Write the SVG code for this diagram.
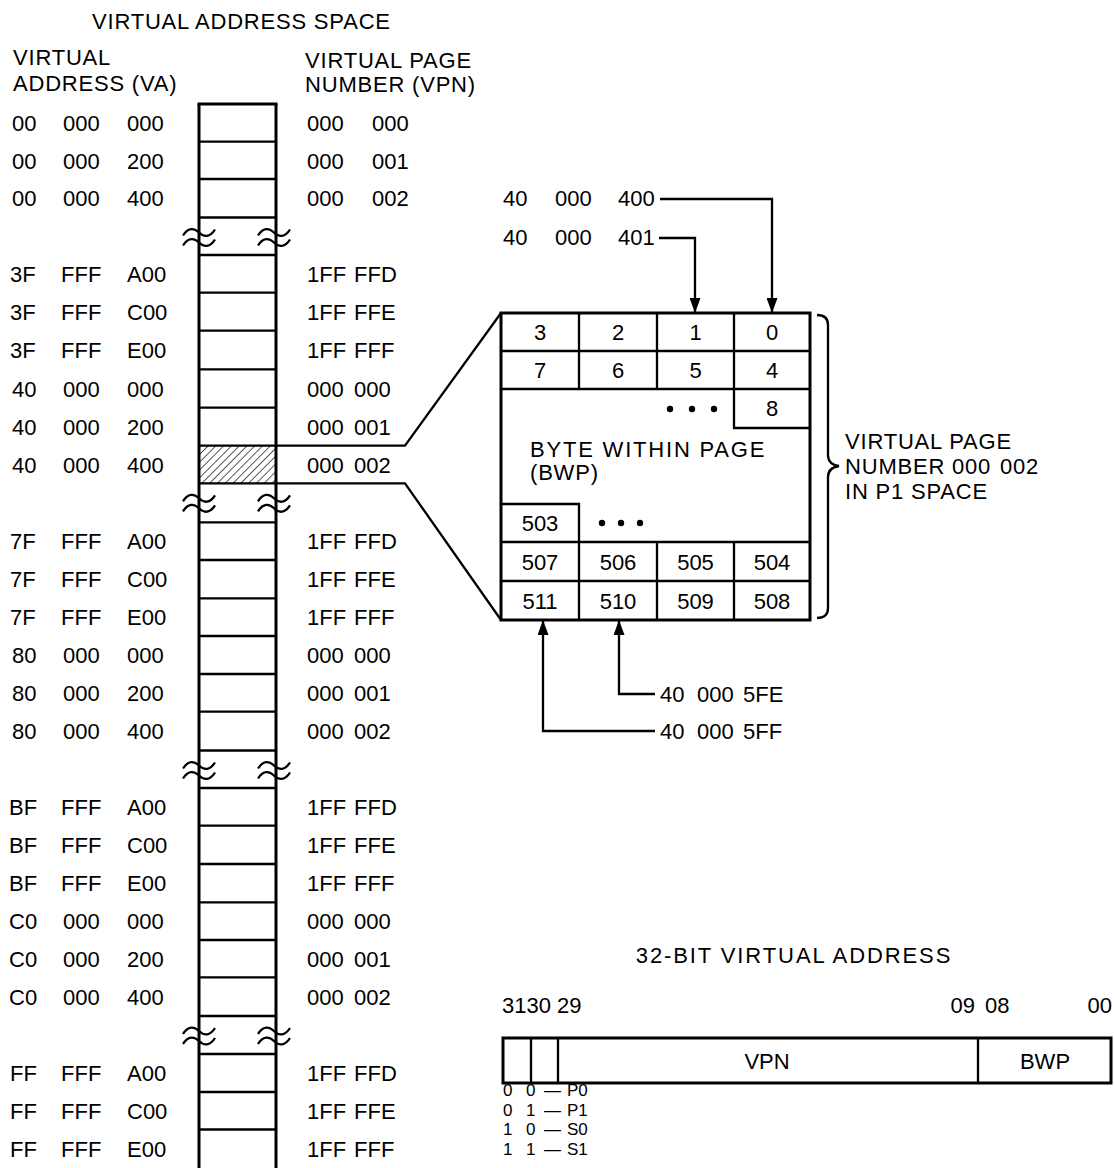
<svg xmlns="http://www.w3.org/2000/svg" width="1114" height="1168" viewBox="0 0 1114 1168">
<defs>
<style>
text{font-family:"Liberation Sans",Arial,Helvetica,sans-serif;font-size:22px;fill:#000}
.h{letter-spacing:0.8px}
.c{text-anchor:middle}
.e{text-anchor:end}
.lg{font-size:17px}
.thick{stroke:#000;stroke-width:3;fill:none}
.thin{stroke:#000;stroke-width:2.3;fill:none}
.brk{stroke:#000;stroke-width:2.3;fill:none}
.conn{stroke:#000;stroke-width:2.3;fill:none}
</style>
<pattern id="hatch" patternUnits="userSpaceOnUse" width="5.5" height="5.5" patternTransform="rotate(45)"><line x1="0" y1="0" x2="0" y2="5.5" stroke="#000" stroke-width="1.3"/></pattern>
<path id="tl" d="M-16,3 C-11,-5 -5,-5 0,0 C5,5 11,5 16,-3"/>
<marker id="ah" viewBox="0 0 15 11" refX="15" refY="5.5" markerWidth="15" markerHeight="11" orient="auto" markerUnits="userSpaceOnUse"><path d="M0,0 L15,5.5 L0,11 Z" fill="#000"/></marker>
</defs>
<rect width="1114" height="1168" fill="#fff"/>

<g id="headers">
<text class="h" x="92" y="29">VIRTUAL ADDRESS SPACE</text>
<text class="h" x="13" y="65">VIRTUAL</text>
<text class="h" x="13" y="91">ADDRESS (VA)</text>
<text class="h" x="305" y="68">VIRTUAL PAGE</text>
<text class="h" x="305" y="92">NUMBER (VPN)</text>
</g>

<g id="address-column">
<rect x="199" y="445.7" width="77" height="37.6" fill="url(#hatch)"/>
<line class="thick" x1="199" y1="104" x2="199" y2="1168"/>
<line class="thick" x1="276" y1="104" x2="276" y2="1168"/>
<line class="thick" x1="197.5" y1="104" x2="277.5" y2="104"/>
<g class="thin">
<path d="M199,141.7H276M199,179H276M199,217.5H276M199,255H276M199,292.7H276M199,330.7H276M199,369.3H276M199,407.7H276M199,445.7H276M199,483.3H276M199,522.3H276M199,560H276M199,598.3H276M199,636H276M199,674H276M199,711.7H276M199,750.5H276M199,788H276M199,825.7H276M199,864H276M199,902.3H276M199,940H276M199,977.3H276M199,1016H276M199,1054H276M199,1092H276M199,1129.5H276"/>
</g>
<g class="brk">
<use href="#tl" x="199" y="232.5"/><use href="#tl" x="199" y="242.5"/><use href="#tl" x="274" y="232.5"/><use href="#tl" x="274" y="242.5"/>
<use href="#tl" x="199" y="498.3"/><use href="#tl" x="199" y="508.3"/><use href="#tl" x="274" y="498.3"/><use href="#tl" x="274" y="508.3"/>
<use href="#tl" x="199" y="765.5"/><use href="#tl" x="199" y="775.5"/><use href="#tl" x="274" y="765.5"/><use href="#tl" x="274" y="775.5"/>
<use href="#tl" x="199" y="1031"/><use href="#tl" x="199" y="1041"/><use href="#tl" x="274" y="1031"/><use href="#tl" x="274" y="1041"/>
</g>
</g>

<g id="va-labels">
<text y="131"><tspan x="12">00</tspan><tspan x="63">000</tspan><tspan x="127">000</tspan></text>
<text y="168.5"><tspan x="12">00</tspan><tspan x="63">000</tspan><tspan x="127">200</tspan></text>
<text y="206"><tspan x="12">00</tspan><tspan x="63">000</tspan><tspan x="127">400</tspan></text>
<text y="282"><tspan x="10">3F</tspan><tspan x="61">FFF</tspan><tspan x="127">A00</tspan></text>
<text y="320"><tspan x="10">3F</tspan><tspan x="61">FFF</tspan><tspan x="127">C00</tspan></text>
<text y="358"><tspan x="10">3F</tspan><tspan x="61">FFF</tspan><tspan x="127">E00</tspan></text>
<text y="396.5"><tspan x="12">40</tspan><tspan x="63">000</tspan><tspan x="127">000</tspan></text>
<text y="434.5"><tspan x="12">40</tspan><tspan x="63">000</tspan><tspan x="127">200</tspan></text>
<text y="472.5"><tspan x="12">40</tspan><tspan x="63">000</tspan><tspan x="127">400</tspan></text>
<text y="549"><tspan x="10">7F</tspan><tspan x="61">FFF</tspan><tspan x="127">A00</tspan></text>
<text y="587"><tspan x="10">7F</tspan><tspan x="61">FFF</tspan><tspan x="127">C00</tspan></text>
<text y="625"><tspan x="10">7F</tspan><tspan x="61">FFF</tspan><tspan x="127">E00</tspan></text>
<text y="663"><tspan x="12">80</tspan><tspan x="63">000</tspan><tspan x="127">000</tspan></text>
<text y="701"><tspan x="12">80</tspan><tspan x="63">000</tspan><tspan x="127">200</tspan></text>
<text y="739"><tspan x="12">80</tspan><tspan x="63">000</tspan><tspan x="127">400</tspan></text>
<text y="815"><tspan x="9">BF</tspan><tspan x="61">FFF</tspan><tspan x="127">A00</tspan></text>
<text y="853"><tspan x="9">BF</tspan><tspan x="61">FFF</tspan><tspan x="127">C00</tspan></text>
<text y="891"><tspan x="9">BF</tspan><tspan x="61">FFF</tspan><tspan x="127">E00</tspan></text>
<text y="929"><tspan x="9">C0</tspan><tspan x="63">000</tspan><tspan x="127">000</tspan></text>
<text y="967"><tspan x="9">C0</tspan><tspan x="63">000</tspan><tspan x="127">200</tspan></text>
<text y="1005"><tspan x="9">C0</tspan><tspan x="63">000</tspan><tspan x="127">400</tspan></text>
<text y="1081"><tspan x="10">FF</tspan><tspan x="61">FFF</tspan><tspan x="127">A00</tspan></text>
<text y="1119"><tspan x="10">FF</tspan><tspan x="61">FFF</tspan><tspan x="127">C00</tspan></text>
<text y="1157"><tspan x="10">FF</tspan><tspan x="61">FFF</tspan><tspan x="127">E00</tspan></text>
</g>

<g id="vpn-labels">
<text y="131"><tspan x="307">000</tspan><tspan x="372">000</tspan></text>
<text y="168.5"><tspan x="307">000</tspan><tspan x="372">001</tspan></text>
<text y="206"><tspan x="307">000</tspan><tspan x="372">002</tspan></text>
<text y="282"><tspan x="307">1FF</tspan><tspan x="354">FFD</tspan></text>
<text y="320"><tspan x="307">1FF</tspan><tspan x="354">FFE</tspan></text>
<text y="358"><tspan x="307">1FF</tspan><tspan x="354">FFF</tspan></text>
<text y="396.5"><tspan x="307">000</tspan><tspan x="354">000</tspan></text>
<text y="434.5"><tspan x="307">000</tspan><tspan x="354">001</tspan></text>
<text y="472.5"><tspan x="307">000</tspan><tspan x="354">002</tspan></text>
<text y="549"><tspan x="307">1FF</tspan><tspan x="354">FFD</tspan></text>
<text y="587"><tspan x="307">1FF</tspan><tspan x="354">FFE</tspan></text>
<text y="625"><tspan x="307">1FF</tspan><tspan x="354">FFF</tspan></text>
<text y="663"><tspan x="307">000</tspan><tspan x="354">000</tspan></text>
<text y="701"><tspan x="307">000</tspan><tspan x="354">001</tspan></text>
<text y="739"><tspan x="307">000</tspan><tspan x="354">002</tspan></text>
<text y="815"><tspan x="307">1FF</tspan><tspan x="354">FFD</tspan></text>
<text y="853"><tspan x="307">1FF</tspan><tspan x="354">FFE</tspan></text>
<text y="891"><tspan x="307">1FF</tspan><tspan x="354">FFF</tspan></text>
<text y="929"><tspan x="307">000</tspan><tspan x="354">000</tspan></text>
<text y="967"><tspan x="307">000</tspan><tspan x="354">001</tspan></text>
<text y="1005"><tspan x="307">000</tspan><tspan x="354">002</tspan></text>
<text y="1081"><tspan x="307">1FF</tspan><tspan x="354">FFD</tspan></text>
<text y="1119"><tspan x="307">1FF</tspan><tspan x="354">FFE</tspan></text>
<text y="1157"><tspan x="307">1FF</tspan><tspan x="354">FFF</tspan></text>
</g>

<g id="page-detail">
<rect class="thick" x="501" y="313" width="309" height="307"/>
<path class="thin" d="M501,351H810M501,389H810M579,313V389M657,313V389M734,313V389M734,389V428H810M501,504H579V542M501,542H810M501,581H810M579,542V620M657,542V620M734,542V620"/>
<text class="c" y="339.5"><tspan x="540">3</tspan><tspan x="618">2</tspan><tspan x="695.5">1</tspan><tspan x="772">0</tspan></text>
<text class="c" y="377.5"><tspan x="540">7</tspan><tspan x="618">6</tspan><tspan x="695.5">5</tspan><tspan x="772">4</tspan></text>
<text class="c" x="772" y="416">8</text>
<g fill="#000"><circle cx="670" cy="409" r="3.2"/><circle cx="692" cy="409" r="3.2"/><circle cx="714" cy="409" r="3.2"/>
<circle cx="602" cy="523" r="3.2"/><circle cx="621" cy="523" r="3.2"/><circle cx="640" cy="523" r="3.2"/></g>
<text x="530" y="457" style="letter-spacing:1.8px">BYTE WITHIN PAGE</text>
<text class="h" x="530" y="480">(BWP)</text>
<text class="c" x="540" y="531">503</text>
<text class="c" y="569.5"><tspan x="540">507</tspan><tspan x="618">506</tspan><tspan x="695.5">505</tspan><tspan x="772">504</tspan></text>
<text class="c" y="608.5"><tspan x="540">511</tspan><tspan x="618">510</tspan><tspan x="695.5">509</tspan><tspan x="772">508</tspan></text>
</g>

<g id="page-brace">
<path class="thin" d="M817,315 C824,315 828,318 828,325 V455 C828,461 832,465 839,466 C832,467 828,471 828,477 V608 C828,615 824,618 817,618"/>
<text class="h" x="845" y="449">VIRTUAL PAGE</text>
<text class="h" x="845" y="474">NUMBER 000<tspan x="1000">002</tspan></text>
<text class="h" x="845" y="499">IN P1 SPACE</text>
</g>

<g id="address-labels">
<text y="206"><tspan x="503">40</tspan><tspan x="555">000</tspan><tspan x="618">400</tspan></text>
<text y="245"><tspan x="503">40</tspan><tspan x="555">000</tspan><tspan x="618">401</tspan></text>
<text y="702"><tspan x="660">40</tspan><tspan x="697">000</tspan><tspan x="743">5FE</tspan></text>
<text y="739"><tspan x="660">40</tspan><tspan x="697">000</tspan><tspan x="743">5FF</tspan></text>
</g>

<g id="connectors">
<polyline class="conn" points="276,445.7 405,445.7 501,313"/>
<polyline class="conn" points="276,483.3 405,483.3 501,620"/>
<polyline class="conn" points="660,199 772,199 772,313" marker-end="url(#ah)"/>
<polyline class="conn" points="659,238 695,238 695,313" marker-end="url(#ah)"/>
<polyline class="conn" points="655,694 619,694 619,620" marker-end="url(#ah)"/>
<polyline class="conn" points="655,731 543,731 543,620" marker-end="url(#ah)"/>
</g>

<g id="bit-field">
<text class="c" x="794" y="963" style="letter-spacing:1.9px">32-BIT VIRTUAL ADDRESS</text>
<text x="502" y="1013">3130 29</text>
<text class="e" x="975" y="1013">09</text>
<text x="985" y="1013">08</text>
<text class="e" x="1112" y="1013">00</text>
<rect class="thick" x="503" y="1038" width="608" height="45"/>
<path class="thin" d="M531,1038V1083M558,1038V1083M978,1038V1083"/>
<text class="c" x="767" y="1069">VPN</text>
<text class="c" x="1045" y="1069">BWP</text>
<text class="lg" y="1096"><tspan x="503">0</tspan><tspan x="526">0</tspan><tspan x="544">—</tspan><tspan x="567">P0</tspan></text>
<text class="lg" y="1115.5"><tspan x="503">0</tspan><tspan x="526">1</tspan><tspan x="544">—</tspan><tspan x="567">P1</tspan></text>
<text class="lg" y="1135"><tspan x="503">1</tspan><tspan x="526">0</tspan><tspan x="544">—</tspan><tspan x="567">S0</tspan></text>
<text class="lg" y="1154.5"><tspan x="503">1</tspan><tspan x="526">1</tspan><tspan x="544">—</tspan><tspan x="567">S1</tspan></text>
</g>
</svg>
